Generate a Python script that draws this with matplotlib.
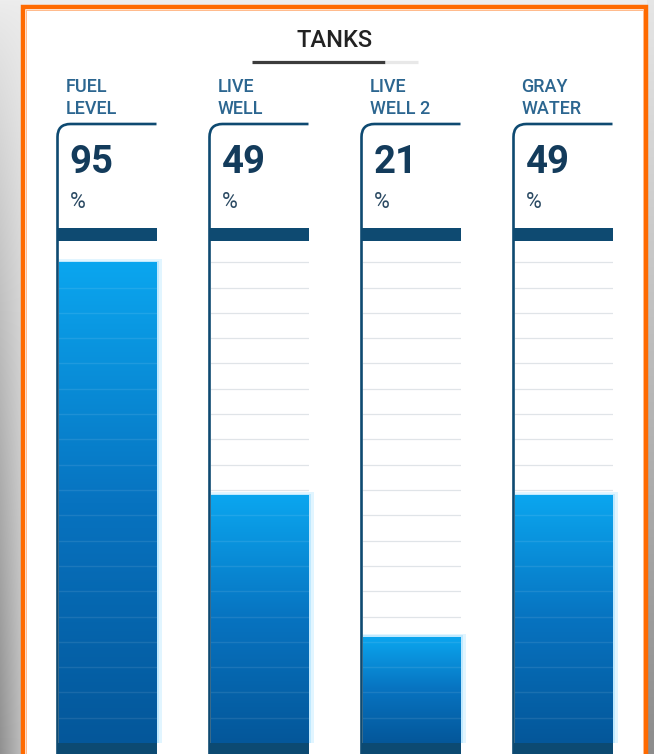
#!/usr/bin/env python3
import numpy as np
import matplotlib
matplotlib.use('Agg')
import matplotlib.pyplot as plt
from matplotlib.patches import Rectangle
from matplotlib.path import Path
from matplotlib.patches import PathPatch
from matplotlib.colors import LinearSegmentedColormap

W, H = 654, 754

title = 'TANKS'
labels = [('FUEL', 'LEVEL'), ('LIVE', 'WELL'), ('LIVE', 'WELL 2'), ('GRAY', 'WATER')]
levels = [95, 49, 21, 49]
unit = '%'
grid_ticks = list(range(5, 100, 5))

NAVY = '#0e4a71'
LABEL = '#2c6690'
fill_cmap = LinearSegmentedColormap.from_list('fill', ['#04579a', '#0773c0', '#0ba6ef'])

plt.rcParams['font.family'] = ['Roboto', 'DejaVu Sans']


def main():
    fig = plt.figure(figsize=(W / 100, H / 100), dpi=100)
    bg = fig.add_axes([0, 0, 1, 1])
    bg.set_xlim(0, W)
    bg.set_ylim(H, 0)
    bg.axis('off')

    # grey page behind the panel
    yy, xx = np.mgrid[0:H, 0:W]
    shade = np.full((H, W), 0.93)
    left = xx < 22
    shade[left] = (0.93 - 0.36 * (yy / H) ** 0.8 * (1.0 - xx / 45))[left]
    right = xx > W - 8
    shade[right] = (0.9 - 0.35 * (yy / H))[right]
    bg.imshow(np.dstack([np.clip(shade, 0, 1)] * 3), extent=[0, W, H, 0], zorder=0,
              aspect='auto', interpolation='nearest')

    # orange frame
    bg.add_patch(Rectangle((23, 7), 623, 800, facecolor='white', edgecolor='#ff6a00',
                           lw=3.2, zorder=1))
    bg.add_patch(Rectangle((26, 10), 617, 800, facecolor='none', edgecolor='#ffb98a',
                           lw=0.7, zorder=1))

    # title
    bg.text(335, 47, title, ha='center', va='baseline', fontsize=17, fontweight='medium',
            color='#222222', zorder=3)
    bg.plot([252, 385], [61.5, 61.5], color='#3c3c3c', lw=2.3, solid_capstyle='butt', zorder=3)
    bg.plot([385, 418], [61.5, 61.5], color='#e8e8e8', lw=2.3, solid_capstyle='butt', zorder=3)

    step = 152
    for i, (lab, val) in enumerate(zip(labels, levels)):
        x0 = 57.5 + i * step
        x1 = x0 + 99
        # labels
        bg.text(x0 + 8, 92, lab[0], fontsize=13, fontweight='medium', color=LABEL,
                va='baseline', zorder=3)
        bg.text(x0 + 8, 114, lab[1], fontsize=13, fontweight='medium', color=LABEL,
                va='baseline', zorder=3)
        # header box outline with rounded corner
        r = 13
        verts = [(x1, 124), (x0 + r, 124), (x0, 124), (x0, 124 + r), (x0, H + 5)]
        codes = [Path.MOVETO, Path.LINETO, Path.CURVE3, Path.CURVE3, Path.LINETO]
        bg.add_patch(PathPatch(Path(verts, codes), facecolor='none', edgecolor=NAVY,
                               lw=1.9, zorder=4))
        # value readout
        bg.text(x0 + 12, 173, str(val), fontsize=27.5, fontweight='bold', color='#133b5b',
                va='baseline', zorder=3)
        bg.text(x0 + 12.5, 208, unit, fontsize=15.5, color='#2b4a63', va='baseline', zorder=3)
        # dark strips
        bg.add_patch(Rectangle((x0, 228), x1 - x0, 13, facecolor=NAVY, lw=0, zorder=4))
        bg.add_patch(Rectangle((x0, 743), x1 - x0, 20, facecolor='#0c4a72', lw=0, zorder=4))

        # tank gauge on its own 0-100 axes
        ax = fig.add_axes([(x0 + 1.2) / W, (H - 743) / H, (x1 - x0 - 1.2) / W, (743 - 237) / H],
                          zorder=2)
        ax.set_xlim(-0.5, 0.5)
        ax.set_ylim(0, 100)
        ax.axis('off')
        for g in grid_ticks:
            ax.axhline(g, color='#e0e4e8', lw=0.9, zorder=0)
        # right-side glow
        ax.bar(-0.5, val + 0.6, width=1.06, align='edge', color='#c4ecff', alpha=0.5,
               zorder=1, clip_on=False)
        ax.bar(-0.5, val + 0.3, width=1.03, align='edge', color='#a0defe', alpha=0.5,
               zorder=1, clip_on=False)
        bar = ax.bar(-0.5, val, width=1.0, align='edge', color='#0780c8', zorder=2,
                     clip_on=False)[0]
        grad = np.linspace(0, 1, 256).reshape(-1, 1)
        im = ax.imshow(grad, cmap=fill_cmap, extent=[-0.5, 0.5, 0, val], origin='lower',
                       aspect='auto', zorder=3)
        im.set_clip_path(bar)
        for g in grid_ticks:
            if g < val:
                ax.plot([-0.5, 0.5], [g, g], color='white', alpha=0.09, lw=1, zorder=4)
        ax.set_xlim(-0.5, 0.5)
        ax.set_ylim(0, 100)

    fig.savefig('out.png', dpi=100)


if __name__ == '__main__':
    main()
